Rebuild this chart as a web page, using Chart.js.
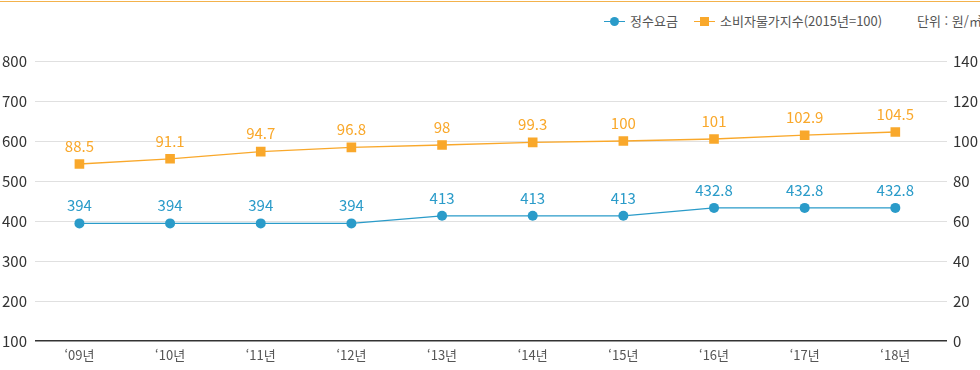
<!DOCTYPE html>
<html lang="ko">
<head>
<meta charset="utf-8">
<script src="https://cdn.jsdelivr.net/npm/chart.js@4/dist/chart.umd.min.js"></script>
<style>
    html, body { margin: 0; padding: 0; background: #fff; }
    body { width: 980px; height: 370px; overflow: hidden; position: relative; font-family: "Noto Sans CJK KR", "Noto Sans", sans-serif; }
    .topline { position: absolute; left: 0; top: 1px; width: 980px; height: 1px; background: #f3b24c; }
    .legend { position: absolute; left: 0; top: 11px; width: 980px; height: 20px; font-size: 13px; color: #555; line-height: 20px; }
    .legend > span { position: absolute; top: 0; white-space: nowrap; }
    .mark { width: 21px; height: 20px; }
    .mark::before { content: ""; position: absolute; left: 0; right: 0; top: 10px; height: 1px; }
    .mark::after { content: ""; position: absolute; width: 9px; height: 9px; left: 6px; top: 6px; }
    .m-blue::before, .m-blue::after { background: #2a9bc9; }
    .m-blue::after { border-radius: 50%; }
    .m-orange::before, .m-orange::after { background: #f9a82b; }
    #wrap { position: absolute; left: 0; top: 0; width: 980px; height: 370px; }
</style>
</head>
<body>
<div class="topline"></div>
<div class="legend">
    <span class="mark m-blue" style="left:604px"></span>
    <span style="left:630px">정수요금</span>
    <span class="mark m-orange" style="left:694px"></span>
    <span style="left:720px">소비자물가지수(2015년=100)</span>
    <span style="left:917px">단위 : 원/㎥</span>
</div>
<div id="wrap"><canvas id="lineChart" width="980" height="370"></canvas></div>

<script>
// 데이터
const years = ["\u201809년", "\u201810년", "\u201811년", "\u201812년", "\u201813년", "\u201814년", "\u201815년", "\u201816년", "\u201817년", "\u201818년"];
const waterFee = [394, 394, 394, 394, 413, 413, 413, 432.8, 432.8, 432.8];
const cpi = [88.5, 91.1, 94.7, 96.8, 98, 99.3, 100, 101, 102.9, 104.5];
const leftTicks = [100, 200, 300, 400, 500, 600, 700, 800];
const rightTicks = [0, 20, 40, 60, 80, 100, 120, 140];

const blue = "#2a9bc9";
const orange = "#f9a82b";
const fontFamily = '"Noto Sans CJK KR", "Noto Sans", sans-serif';

// x축: 오른쪽 여백이 조금 더 넓은 카테고리 축
class WideCategory extends Chart.CategoryScale {
    configure() {
        super.configure();
        this._startValue = -0.49;
        this._valueRange = this.max - this.min + 1.06;
    }
}
WideCategory.id = "wideCategory";
WideCategory.defaults = Chart.CategoryScale.defaults;
Chart.register(WideCategory);

// 값 라벨 그리기
const valueLabels = {
    id: "valueLabels",
    afterDatasetsDraw(chart) {
        const ctx = chart.ctx;
        ctx.save();
        ctx.font = "15px " + fontFamily;
        ctx.textAlign = "center";
        ctx.textBaseline = "middle";
        chart.data.datasets.forEach((ds, i) => {
            const meta = chart.getDatasetMeta(i);
            ctx.fillStyle = ds.borderColor;
            meta.data.forEach((pt, j) => {
                ctx.fillText(String(ds.data[j]), pt.x, pt.y - 18);
            });
        });
        ctx.restore();
    }
};

const ctx = document.getElementById("lineChart").getContext("2d");
new Chart(ctx, {
    type: "line",
    data: {
        labels: years,
        datasets: [
            {
                label: "정수요금",
                data: waterFee,
                yAxisID: "y",
                borderColor: blue,
                backgroundColor: blue,
                borderWidth: 1.3,
                pointStyle: "circle",
                pointRadius: 5,
                pointBorderWidth: 0,
                pointHoverRadius: 5,
                tension: 0
            },
            {
                label: "소비자물가지수(2015년=100)",
                data: cpi,
                yAxisID: "y1",
                borderColor: orange,
                backgroundColor: orange,
                borderWidth: 1.3,
                pointStyle: "rect",
                pointRadius: 6.8,
                pointBorderWidth: 0,
                pointHoverRadius: 6.8,
                tension: 0
            }
        ]
    },
    plugins: [valueLabels],
    options: {
        responsive: false,
        animation: false,
        layout: { padding: { top: 61, left: 0, right: 0, bottom: 0 } },
        plugins: {
            legend: { display: false },
            tooltip: { enabled: false }
        },
        scales: {
            x: {
                type: "wideCategory",
                offset: false,
                grid: { display: false, drawTicks: false },
                border: { display: false },
                ticks: { color: "#555", font: { size: 13, family: fontFamily }, padding: 6, maxRotation: 0, autoSkip: false },
                afterFit: (s) => { s.height = 29; }
            },
            y: {
                position: "left",
                min: 100,
                max: 800,
                afterBuildTicks: (s) => { s.ticks = leftTicks.map(v => ({ value: v })); },
                grid: {
                    color: (c) => c.tick && c.tick.value === 100 ? "#333" : "#e0e0e0",
                    lineWidth: (c) => c.tick && c.tick.value === 100 ? 1.5 : 1,
                    drawTicks: false
                },
                border: { display: false },
                ticks: { color: "#333", font: { size: 15, family: fontFamily }, padding: 8 },
                afterFit: (s) => { s.width = 35; }
            },
            y1: {
                position: "right",
                min: 0,
                max: 140,
                afterBuildTicks: (s) => { s.ticks = rightTicks.map(v => ({ value: v })); },
                grid: { drawOnChartArea: false, drawTicks: false },
                border: { display: false },
                ticks: { color: "#333", font: { size: 15, family: fontFamily }, padding: 6 },
                afterFit: (s) => { s.width = 33; }
            }
        }
    }
});
</script>
</body>
</html>
